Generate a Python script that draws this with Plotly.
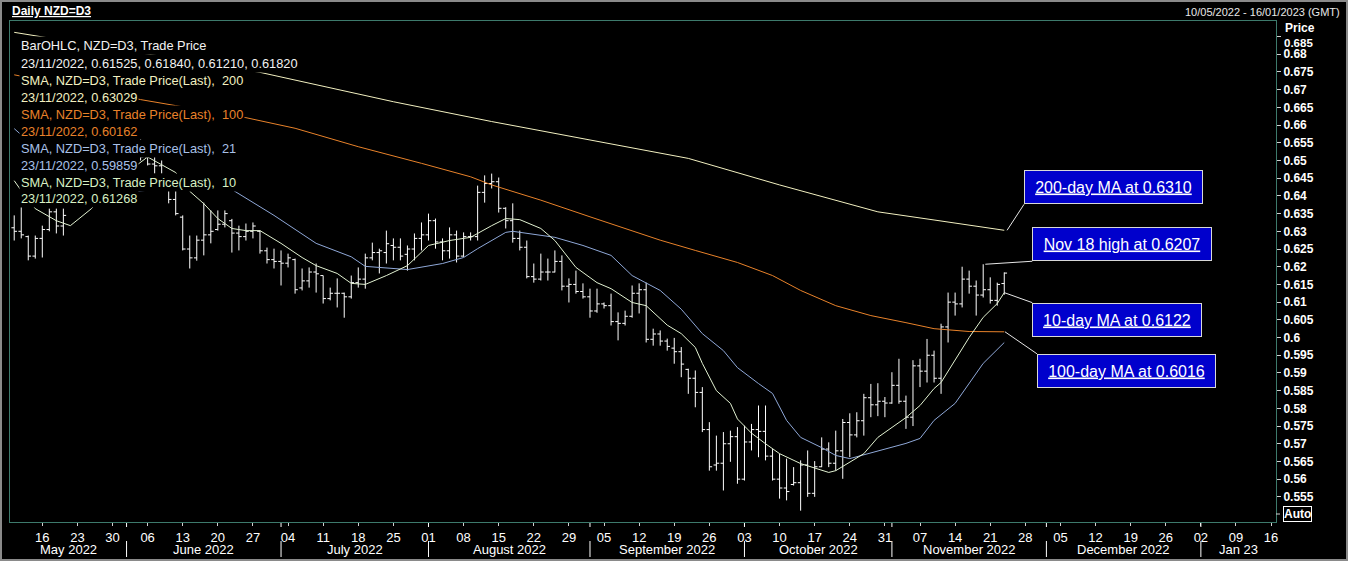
import numpy as np
import pandas as pd
import plotly.graph_objects as go

# daily bars, NZD=D3, 10 May 2022 - 23 Nov 2022 (weekdays)
dates = pd.bdate_range("2022-05-10", "2022-11-23")

opens = [0.6310, 0.6300, 0.6285, 0.6230, 0.6280, 0.6305, 0.6355, 0.6315, 0.6400, 0.6410,
         0.6450, 0.6460, 0.6470, 0.6500, 0.6530, 0.6520, 0.6515, 0.6480, 0.6530, 0.6510,
         0.6490, 0.6485, 0.6458, 0.6390, 0.6340, 0.6250, 0.6225, 0.6275, 0.6290, 0.6305,
         0.6320, 0.6330, 0.6295, 0.6285, 0.6300, 0.6300, 0.6245, 0.6220, 0.6215, 0.6210,
         0.6220, 0.6140, 0.6160, 0.6185, 0.6175, 0.6110, 0.6125, 0.6125, 0.6115, 0.6155,
         0.6165, 0.6225, 0.6240, 0.6240, 0.6260, 0.6255, 0.6235, 0.6250, 0.6280, 0.6290,
         0.6330, 0.6270, 0.6245, 0.6290, 0.6230, 0.6285, 0.6285, 0.6410, 0.6435, 0.6440,
         0.6365, 0.6330, 0.6280, 0.6255, 0.6172, 0.6165, 0.6185, 0.6185, 0.6215, 0.6145,
         0.6150, 0.6130, 0.6115, 0.6075, 0.6095, 0.6090, 0.6045, 0.6040, 0.6060, 0.6125,
         0.6135, 0.5995, 0.6010, 0.5990, 0.5970, 0.5960, 0.5910, 0.5885, 0.5845, 0.5740,
         0.5640, 0.5645, 0.5700, 0.5720, 0.5600, 0.5705, 0.5740, 0.5735, 0.5665, 0.5600,
         0.5575, 0.5585, 0.5590, 0.5640, 0.5560, 0.5635, 0.5685, 0.5645, 0.5680, 0.5760,
         0.5725, 0.5765, 0.5830, 0.5810, 0.5820, 0.5815, 0.5865, 0.5820, 0.5775, 0.5920,
         0.5905, 0.5950, 0.5885, 0.6030, 0.6100, 0.6095, 0.6165, 0.6145, 0.6120, 0.6135,
         0.6105, 0.61525]
highs = [0.6345, 0.6379, 0.6288, 0.6288, 0.6316, 0.6364, 0.6364, 0.6364, 0.6425, 0.6460,
         0.6475, 0.6490, 0.6510, 0.6545, 0.6560, 0.6550, 0.6530, 0.6540, 0.6560, 0.6530,
         0.6520, 0.6500, 0.6460, 0.6420, 0.6345, 0.6288, 0.6288, 0.6381, 0.6359, 0.6359,
         0.6359, 0.6335, 0.6316, 0.6322, 0.6325, 0.6302, 0.6254, 0.6251, 0.6246, 0.6237,
         0.6223, 0.6195, 0.6198, 0.6209, 0.6175, 0.6141, 0.6167, 0.6127, 0.6175, 0.6198,
         0.6237, 0.6268, 0.6251, 0.6302, 0.6280, 0.6280, 0.6260, 0.6294, 0.6325, 0.6350,
         0.6336, 0.6280, 0.6311, 0.6302, 0.6297, 0.6297, 0.6429, 0.6458, 0.6463, 0.6452,
         0.6368, 0.6379, 0.6302, 0.6274, 0.6209, 0.6237, 0.6223, 0.6246, 0.6232, 0.6167,
         0.6189, 0.6153, 0.6138, 0.6138, 0.6099, 0.6124, 0.6071, 0.6076, 0.6147, 0.6153,
         0.6155, 0.6025, 0.6020, 0.5997, 0.5999, 0.5973, 0.5912, 0.5907, 0.5860, 0.5761,
         0.5723, 0.5733, 0.5737, 0.5747, 0.5751, 0.5756, 0.5808, 0.5808, 0.5685, 0.5672,
         0.5658, 0.5634, 0.5653, 0.5681, 0.5651, 0.5718, 0.5704, 0.5737, 0.5770, 0.5786,
         0.5789, 0.5841, 0.5869, 0.5871, 0.5832, 0.5902, 0.5940, 0.5836, 0.5936, 0.5940,
         0.5996, 0.5963, 0.6039, 0.6127, 0.6127, 0.6200, 0.6189, 0.6161, 0.6207, 0.6170,
         0.6155, 0.6184]
lows = [0.6274, 0.6280, 0.6218, 0.6223, 0.6226, 0.6300, 0.6294, 0.6288, 0.6395, 0.6400,
        0.6420, 0.6440, 0.6450, 0.6480, 0.6500, 0.6490, 0.6460, 0.6470, 0.6500, 0.6486,
        0.6463, 0.6463, 0.6379, 0.6345, 0.6246, 0.6195, 0.6217, 0.6232, 0.6266, 0.6302,
        0.6311, 0.6240, 0.6246, 0.6274, 0.6280, 0.6237, 0.6209, 0.6195, 0.6147, 0.6198,
        0.6124, 0.6133, 0.6141, 0.6127, 0.6096, 0.6105, 0.6085, 0.6056, 0.6110, 0.6141,
        0.6138, 0.6218, 0.6181, 0.6209, 0.6218, 0.6218, 0.6189, 0.6218, 0.6246, 0.6274,
        0.6251, 0.6218, 0.6223, 0.6212, 0.6228, 0.6274, 0.6274, 0.6381, 0.6421, 0.6353,
        0.6308, 0.6268, 0.6246, 0.6167, 0.6155, 0.6161, 0.6161, 0.6184, 0.6133, 0.6099,
        0.6124, 0.6110, 0.6056, 0.6070, 0.6082, 0.6034, 0.5992, 0.6034, 0.6056, 0.6068,
        0.5986, 0.5977, 0.5977, 0.5963, 0.5926, 0.5888, 0.5841, 0.5803, 0.5733, 0.5624,
        0.5624, 0.5568, 0.5649, 0.5587, 0.5596, 0.5681, 0.5662, 0.5653, 0.5596, 0.5545,
        0.5540, 0.5582, 0.5511, 0.5550, 0.5550, 0.5634, 0.5634, 0.5624, 0.5601, 0.5662,
        0.5718, 0.5723, 0.5775, 0.5778, 0.5775, 0.5813, 0.5813, 0.5742, 0.5750, 0.5860,
        0.5873, 0.5873, 0.5841, 0.5986, 0.6062, 0.6085, 0.6124, 0.6062, 0.6113, 0.6096,
        0.6090, 0.6121]
closes = [0.6300, 0.6290, 0.6230, 0.6280, 0.6305, 0.6355, 0.6315, 0.6345, 0.6410, 0.6450,
          0.6460, 0.6470, 0.6500, 0.6530, 0.6520, 0.6515, 0.6480, 0.6530, 0.6510, 0.6490,
          0.6485, 0.6458, 0.6390, 0.6350, 0.6250, 0.6225, 0.6275, 0.6290, 0.6300, 0.6320,
          0.6350, 0.6295, 0.6285, 0.6300, 0.6315, 0.6245, 0.6220, 0.6215, 0.6210, 0.6225,
          0.6135, 0.6160, 0.6185, 0.6180, 0.6110, 0.6125, 0.6125, 0.6115, 0.6155, 0.6165,
          0.6225, 0.6240, 0.6245, 0.6265, 0.6255, 0.6230, 0.6250, 0.6280, 0.6290, 0.6330,
          0.6270, 0.6245, 0.6290, 0.6230, 0.6285, 0.6285, 0.6410, 0.6435, 0.6440, 0.6365,
          0.6330, 0.6280, 0.6255, 0.6172, 0.6165, 0.6185, 0.6185, 0.6215, 0.6145, 0.6150,
          0.6130, 0.6115, 0.6075, 0.6095, 0.6090, 0.6045, 0.6040, 0.6060, 0.6125, 0.6135,
          0.5995, 0.6010, 0.5990, 0.5975, 0.5960, 0.5925, 0.5885, 0.5845, 0.5740, 0.5635,
          0.5645, 0.5700, 0.5720, 0.5600, 0.5705, 0.5740, 0.5735, 0.5665, 0.5600, 0.5575,
          0.5565, 0.5590, 0.5640, 0.5560, 0.5635, 0.5685, 0.5645, 0.5680, 0.5760, 0.5725,
          0.5765, 0.5830, 0.5810, 0.5820, 0.5815, 0.5865, 0.5820, 0.5775, 0.5920, 0.5905,
          0.5950, 0.5885, 0.6030, 0.6100, 0.6095, 0.6165, 0.6145, 0.6120, 0.6135, 0.6105,
          0.6150, 0.6182]

# moving averages
sma200_dates = ["2022-05-10", "2022-05-16", "2022-06-28", "2022-07-25", "2022-08-12", "2022-09-01",
                "2022-09-21", "2022-10-10", "2022-10-28", "2022-11-09", "2022-11-16", "2022-11-23"]
sma200 = [0.6862, 0.6849, 0.6749, 0.6666, 0.6610, 0.6558, 0.6506, 0.6431, 0.6355, 0.6332, 0.6318, 0.63029]

sma100_dates = ["2022-05-10", "2022-06-03", "2022-06-10", "2022-06-24", "2022-07-05", "2022-07-18",
                "2022-07-29", "2022-08-09", "2022-08-12", "2022-08-23", "2022-09-01", "2022-09-15",
                "2022-09-22", "2022-09-30", "2022-10-07", "2022-10-13", "2022-10-20", "2022-10-27",
                "2022-11-03", "2022-11-09", "2022-11-16", "2022-11-23"]
sma100 = [0.6742, 0.6672, 0.6655, 0.6621, 0.6591, 0.6539, 0.6492, 0.6454, 0.6431, 0.6388, 0.6341,
          0.6275, 0.6246, 0.6212, 0.6175, 0.6133, 0.6090, 0.6062, 0.6042, 0.6025, 0.6017, 0.60162]

sma21_dates = ["2022-05-10", "2022-05-12", "2022-05-23", "2022-06-02", "2022-06-07", "2022-06-13",
               "2022-06-22", "2022-06-30", "2022-07-08", "2022-07-15", "2022-07-19", "2022-07-27",
               "2022-08-03", "2022-08-08", "2022-08-10", "2022-08-16", "2022-08-17", "2022-08-23",
               "2022-08-25", "2022-08-31", "2022-09-06", "2022-09-09", "2022-09-15", "2022-09-20",
               "2022-09-21", "2022-09-23", "2022-09-28", "2022-09-30", "2022-10-05", "2022-10-07",
               "2022-10-11", "2022-10-13", "2022-10-18", "2022-10-20", "2022-10-24", "2022-10-26",
               "2022-10-31", "2022-11-03", "2022-11-07", "2022-11-09", "2022-11-14", "2022-11-16",
               "2022-11-18", "2022-11-23"]
sma21 = [0.6590, 0.6555, 0.6470, 0.6412, 0.6418, 0.6428, 0.6418, 0.6345, 0.6266, 0.6228, 0.6201,
         0.6192, 0.6209, 0.6226, 0.6251, 0.6297, 0.6300, 0.6288, 0.6283, 0.6260, 0.6232, 0.6175,
         0.6133, 0.6080, 0.6056, 0.6011, 0.5963, 0.5915, 0.5870, 0.5842, 0.5766, 0.5718, 0.5689,
         0.5667, 0.5658, 0.5669, 0.5686, 0.5701, 0.5715, 0.5766, 0.5814, 0.5870, 0.5927, 0.59859]

sma10_dates = ["2022-05-10", "2022-05-11", "2022-05-13", "2022-05-18", "2022-05-20", "2022-05-25",
               "2022-05-31", "2022-06-06", "2022-06-10", "2022-06-14", "2022-06-16", "2022-06-20",
               "2022-06-22", "2022-06-24", "2022-06-28", "2022-07-01", "2022-07-06", "2022-07-08",
               "2022-07-13", "2022-07-15", "2022-07-19", "2022-07-22", "2022-07-27", "2022-08-01",
               "2022-08-04", "2022-08-09", "2022-08-12", "2022-08-16", "2022-08-18", "2022-08-23",
               "2022-08-25", "2022-08-30", "2022-09-02", "2022-09-06", "2022-09-09", "2022-09-13",
               "2022-09-16", "2022-09-20", "2022-09-22", "2022-09-23", "2022-09-27", "2022-09-29",
               "2022-09-30", "2022-10-04", "2022-10-06", "2022-10-10", "2022-10-13", "2022-10-19",
               "2022-10-20", "2022-10-24", "2022-10-26", "2022-10-28", "2022-11-03", "2022-11-07",
               "2022-11-09", "2022-11-10", "2022-11-14", "2022-11-16", "2022-11-18", "2022-11-22",
               "2022-11-23"]
sma10 = [0.6443, 0.6415, 0.6364, 0.6330, 0.6316, 0.6364, 0.6450, 0.6510, 0.6466, 0.6413, 0.6378,
         0.6336, 0.6308, 0.6302, 0.6302, 0.6266, 0.6226, 0.6203, 0.6181, 0.6153, 0.6150, 0.6175,
         0.6203, 0.6260, 0.6274, 0.6283, 0.6316, 0.6336, 0.6333, 0.6308, 0.6274, 0.6198, 0.6155,
         0.6138, 0.6099, 0.6090, 0.6035, 0.6011, 0.5972, 0.5927, 0.5850, 0.5814, 0.5770, 0.5730,
         0.5700, 0.5672, 0.5644, 0.5619, 0.5624, 0.5647, 0.5672, 0.5718, 0.5774, 0.5808, 0.5856,
         0.5873, 0.5935, 0.6000, 0.6057, 0.6096, 0.61268]

# axis labels
day_labels = ["16", "23", "30", "06", "13", "20", "27", "04", "11", "18", "25", "01", "08", "15",
              "22", "29", "05", "12", "19", "26", "03", "10", "17", "24", "31", "07", "14", "21",
              "28", "05", "12", "19", "26", "02", "09", "16"]
month_starts = ["2022-06-01", "2022-07-01", "2022-08-01", "2022-09-01", "2022-10-03",
                "2022-11-01", "2022-12-01", "2023-01-02"]
month_labels = ["May 2022", "June 2022", "July 2022", "August 2022", "September 2022",
                "October 2022", "November 2022", "December 2022", "Jan 23"]
price_ticks = [0.555, 0.56, 0.565, 0.57, 0.575, 0.58, 0.585, 0.59, 0.595, 0.6, 0.605, 0.61,
               0.615, 0.62, 0.625, 0.63, 0.635, 0.64, 0.645, 0.65, 0.655, 0.66, 0.665, 0.67,
               0.675, 0.68, 0.685]
# the top label is nudged down under "Price", so it is written separately
price_labels = [f"{v:g}" for v in price_ticks[:-1]] + [""]

C200 = "#f2f0c0"
C100 = "#e8822a"
C21 = "#8fa8d8"
C10 = "#e2f2d2"
TEAL = "#3d7a6c"
FONT = "Liberation Sans"

X_LO, X_HI = -4.6, 175.7   # visible range in trading days from Mon 16 May


def at(i):
    # trading-day position -> timestamp (0 = Mon 16 May 2022)
    whole = int(np.floor(i))
    return pd.Timestamp("2022-05-16") + pd.offsets.BDay(whole) + pd.Timedelta(days=i - whole)


def tday(d):
    return int(np.busday_count("2022-05-16", d))


def px(p):
    return (p - 10) / 1266


def py(p):
    return (522 - p) / 501


def xp(i):
    return (i - X_LO) / (X_HI - X_LO)


fig = go.Figure()

for d, v, c in [(sma200_dates, sma200, C200), (sma100_dates, sma100, C100),
                (sma21_dates, sma21, C21), (sma10_dates, sma10, C10)]:
    fig.add_trace(go.Scatter(x=d, y=v, mode="lines", line=dict(color=c, width=1),
                             hoverinfo="skip"))

fig.add_trace(go.Ohlc(x=dates, open=opens, high=highs, low=lows, close=closes,
                      increasing=dict(line=dict(color="white", width=1)),
                      decreasing=dict(line=dict(color="white", width=1)),
                      tickwidth=0.4, name="NZD=D3"))

# last-value markers on the price scale
fig.add_trace(go.Scatter(
    x=[at(X_HI + 0.5)] * 5,
    y=[sma200[-1], closes[-1], sma10[-1], sma100[-1], sma21[-1]],
    mode="markers", cliponaxis=False, hoverinfo="skip",
    marker=dict(symbol="diamond", size=7, color=[C200, "white", "#c8f0c0", C100, "#a8c0e0"])))

ann = []

# legend block, one opaque box per line
last = dates[-1].strftime("%d/%m/%Y")
legend_rows = [
    ("BarOHLC, NZD=D3, Trade Price", "#f2f2f2"),
    (f"{last}, {opens[-1]:.5f}, {highs[-1]:.5f}, {lows[-1]:.5f}, {closes[-1]:.5f}", "#f2f2f2"),
    ("SMA, NZD=D3, Trade Price(Last),\u00a0 200", C200),
    (f"{last}, {sma200[-1]:.5f}", C200),
    ("SMA, NZD=D3, Trade Price(Last),\u00a0 100", C100),
    (f"{last}, {sma100[-1]:.5f}", C100),
    ("SMA, NZD=D3, Trade Price(Last),\u00a0 21", "#a8c0e8"),
    (f"{last}, {sma21[-1]:.5f}", "#a8c0e8"),
    ("SMA, NZD=D3, Trade Price(Last),\u00a0 10", "#d8f0c4"),
    (f"{last}, {sma10[-1]:.5f}", "#d8f0c4"),
]
for k, (t, c) in enumerate(legend_rows):
    ann.append(dict(xref="paper", yref="paper", x=px(19), y=py(46 + 17 * k), text=t,
                    xanchor="left", yanchor="middle", showarrow=False, bgcolor="black",
                    borderpad=1, font=dict(family=FONT, size=12.8, color=c)))

# callout boxes
nov18 = list(dates).index(pd.Timestamp("2022-11-18"))
box = dict(showarrow=True, arrowhead=0, arrowwidth=1, arrowcolor="#e6e6e6", xanchor="left",
           bgcolor="#0000cc", bordercolor="#d8d8d8", borderwidth=1, borderpad=1, height=30,
           align="center", valign="middle", font=dict(family=FONT, size=16, color="white"))
ann.append(dict(box, x=at(137.4), y=sma200[-1], text="<u>200-day MA at 0.6310</u>",
                ax=17, ay=-26, yanchor="bottom", width=175))
ann.append(dict(box, x=at(134.3), y=highs[nov18], text="<u>Nov 18 high at 0.6207</u>",
                ax=47, ay=-3, yanchor="bottom", width=176))
ann.append(dict(box, x=at(137.0), y=sma10[-1], text="<u>10-day MA at 0.6122</u>",
                ax=28, ay=10, yanchor="top", width=166))
ann.append(dict(box, x=at(137.1), y=sma100[-1], text="<u>100-day MA at 0.6016</u>",
                ax=32, ay=22, yanchor="top", width=175))

# header texts
ann.append(dict(xref="paper", yref="paper", x=px(10), y=py(11), text="<b><u>Daily NZD=D3</u></b>",
                xanchor="left", yanchor="middle", showarrow=False,
                font=dict(family=FONT, size=12, color="white")))
ann.append(dict(xref="paper", yref="paper", x=px(1342), y=py(12),
                text="10/05/2022 - 16/01/2023 (GMT)", xanchor="right", yanchor="middle",
                showarrow=False, font=dict(family=FONT, size=11, color="#e8e8e8")))
ann.append(dict(xref="paper", yref="paper", x=px(1283), y=py(28), text="<b>Price</b>",
                xanchor="left", yanchor="middle", showarrow=False,
                font=dict(family=FONT, size=12, color="white")))
ann.append(dict(xref="paper", yref="paper", x=px(1282), y=py(43), text=f"<b>{price_ticks[-1]:g}</b>",
                xanchor="left", yanchor="middle", showarrow=False,
                font=dict(family=FONT, size=11.5, color="white")))
ann.append(dict(xref="paper", yref="paper", x=px(1283), y=py(514), text="<b>Auto</b>",
                xanchor="left", yanchor="middle", showarrow=False, borderwidth=1,
                bordercolor="white", borderpad=0, font=dict(family=FONT, size=12, color="white")))

# month row under the day ticks
edges = [X_LO] + [tday(d) for d in month_starts] + [X_HI]
for k, name in enumerate(month_labels):
    ann.append(dict(xref="paper", yref="paper", x=xp((edges[k] + edges[k + 1]) / 2), y=py(549),
                    text=name, showarrow=False, xanchor="center", yanchor="middle",
                    font=dict(family=FONT, size=13, color="white")))

shapes = []
for d in month_starts:
    xx = xp(tday(d))
    shapes.append(dict(type="line", xref="paper", yref="paper", x0=xx, x1=xx,
                       y0=py(541), y1=py(557), line=dict(color="white", width=1)))
    shapes.append(dict(type="line", xref="paper", yref="paper", x0=xx, x1=xx,
                       y0=py(523), y1=py(527), line=dict(color="white", width=1)))
# tick mark beside "Auto"
shapes.append(dict(type="line", xref="paper", yref="paper", x0=1, x1=px(1280),
                   y0=py(514), y1=py(514), line=dict(color="#d0d0d0", width=1)))
shapes.append(dict(type="rect", xref="paper", yref="paper", x0=px(1), x1=px(1347),
                   y0=py(560), y1=py(1), line=dict(color="#8a8a8a", width=2)))

fig.update_layout(
    width=1348, height=561,
    margin=dict(l=10, r=72, t=21, b=39),
    paper_bgcolor="black", plot_bgcolor="black",
    showlegend=False,
    font=dict(family=FONT, color="white"),
    annotations=ann, shapes=shapes,
    xaxis=dict(type="date", rangebreaks=[dict(bounds=["sat", "mon"])],
               range=[at(X_LO), at(X_HI)], rangeslider=dict(visible=False),
               tickvals=list(pd.date_range("2022-05-16", periods=len(day_labels), freq="7D")),
               ticktext=day_labels, ticks="outside", ticklen=3, tickcolor="#d0d0d0",
               tickfont=dict(family=FONT, size=13, color="white"),
               showgrid=False, zeroline=False, showline=True, linecolor=TEAL, mirror=True),
    yaxis=dict(side="right", range=[0.5479, 0.6894], tickmode="array", tickvals=price_ticks,
               ticktext=price_labels, ticks="outside", ticklen=4, tickcolor="#d0d0d0",
               tickfont=dict(family=FONT, size=12, color="white", weight="bold"),
               showgrid=False, zeroline=False, showline=True, linecolor=TEAL, mirror=True),
)

# the page body keeps its default 8px margin unless it is cleared
fig.write_html("out.html", config={"displayModeBar": False},
               post_script="document.body.style.margin = '0';")
